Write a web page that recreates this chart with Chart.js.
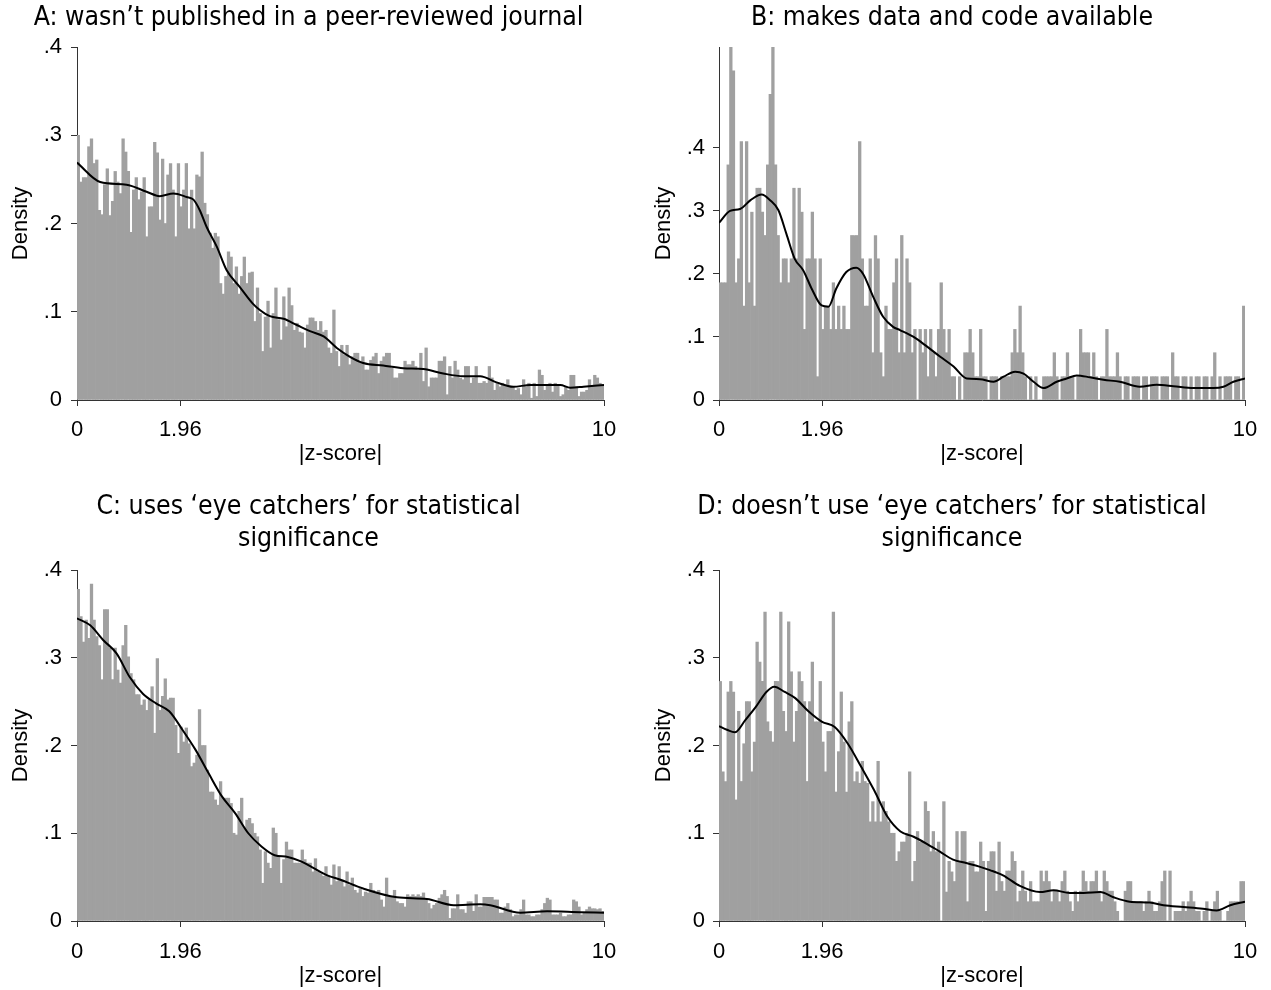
<!DOCTYPE html>
<html>
<head>
<meta charset="utf-8">
<script src="https://cdn.jsdelivr.net/npm/chart.js@4/dist/chart.umd.min.js"></script>
<style>
html,body{margin:0;padding:0;background:#fff;}
#wrap{position:relative;width:1271px;height:990px;overflow:hidden;background:#fff;}
canvas{position:absolute;}
</style>
</head>
<body>
<div id="wrap">
<canvas id="cA" width="640" height="470" style="left:0;top:0"></canvas>
<canvas id="cB" width="631" height="470" style="left:640px;top:0"></canvas>
<canvas id="cC" width="640" height="500" style="left:0;top:490px"></canvas>
<canvas id="cD" width="631" height="500" style="left:640px;top:490px"></canvas>
</div>
<script>
// ---- data ----
const binStart = 0, binWidth = 0.05;   // 200 bins over |z| in [0,10]
const xTickVals = [0, 1.96, 10];
const xTickLabels = ['0', '1.96', '10'];
const yTickVals = [0, 0.1, 0.2, 0.3, 0.4];
const yTickLabels = ['0', '.1', '.2', '.3', '.4'];

const titleA = ['A: wasn\u2019t published in a peer-reviewed journal'];
const titleB = ['B: makes data and code available'];
const titleC = ['C: uses \u2018eye catchers\u2019 for statistical', 'significance'];
const titleD = ['D: doesn\u2019t use \u2018eye catchers\u2019 for statistical', 'significance'];

const histA = [
0.300,0.247,0.252,0.252,0.287,0.296,0.268,0.272,0.215,0.210,
0.244,0.262,0.209,0.225,0.259,0.247,0.234,0.296,0.281,0.259,
0.190,0.238,0.252,0.227,0.236,0.252,0.185,0.219,0.219,0.292,
0.280,0.204,0.273,0.200,0.255,0.268,0.238,0.185,0.268,0.219,
0.238,0.268,0.194,0.238,0.194,0.255,0.253,0.281,0.223,0.210,
0.189,0.172,0.189,0.185,0.132,0.120,0.140,0.168,0.162,0.132,
0.151,0.120,0.140,0.162,0.132,0.144,
0.145,0.089,0.127,0.098,0.055,0.094,0.112,0.059,0.098,0.127,
0.091,0.068,0.117,0.083,0.127,0.107,0.079,0.087,0.077,0.076,
0.059,0.085,0.093,0.093,0.089,0.079,0.089,0.077,0.079,0.059,
0.053,0.102,0.055,0.038,0.062,0.051,0.062,0.040,0.049,0.053,
0.053,0.044,0.049,0.034,0.034,0.045,0.049,0.053,0.030,
0.044,0.049,0.053,0.053,0.036,0.025,0.025,0.030,0.030,0.044,
0.040,0.040,0.044,0.038,0.034,0.053,0.021,0.059,0.015,0.025,
0.025,0.025,0.044,0.044,0.049,0.006,0.038,0.025,0.044,0.034,
0.025,0.023,0.038,0.038,0.019,0.025,0.038,0.019,0.019,0.021,
0.019,0.038,0.025,0.011,0.019,0.015,0.019,0.017,0.023,0.015,
0.015,0.011,0.013,0.006,0.023,0.015,0.019,0.002,0.019,
0.004,0.034,0.028,0.011,0.017,0.019,0.009,0.019,0.017,0.004,
0.006,0.015,0.011,0.028,0.028,0.015,0.004,0.009,0.009,0.011,
0.023,0.015,0.028,0.025,0.019,0.016
];
const histB = [
0.186,0.186,0.186,0.373,0.600,0.522,0.186,0.224,0.410,0.149,
0.410,0.186,0.298,0.149,0.336,0.336,0.298,0.261,0.373,0.485,
0.600,0.373,0.261,0.186,
0.224,0.224,0.186,0.224,0.336,0.224,0.336,0.298,0.112,0.224,
0.224,0.298,0.224,0.037,0.224,0.112,0.149,0.149,0.112,0.186,
0.112,0.149,0.112,0.149,0.112,0.112,0.261,0.261,0.261,0.410,
0.224,0.149,0.149,0.224,0.075,0.261,0.224,0.075,0.037,0.149,
0.112,0.112,0.186,0.224,0.075,
0.261,0.075,0.224,0.186,0.075,0.112,0,0.112,0.075,0.112,0.037,
0.112,0.075,0.037,0.112,0.186,0.112,0.075,0.112,0.037,0.037,
0,0.037,0,0.075,0.075,0.112,0.075,0.037,0.037,0.112,
0.037,0.037,0,0.037,0.037,0.037,0,0.037,0.037,0.037,
0.037,0.075,0.112,0.075,0.149,0.075,0.037,0,0.037,0,
0.037,0,0,0.037,0.037,0.037,0.037,0.075,0.037,0,
0.037,0.037,0.075,0.037,0.037,0,0.037,0.112,0.075,0.075,
0.075,0.037,0.075,0.037,0,0.037,0.037,0.112,0.037,0.037,
0.037,0.075,0.037,0,0.037,0.037,0,0.037,0.037,0.037,
0,0.037,0.037,0,0.037,0.037,0.037,0,0.037,0.037,
0.037,0,0.075,0.037,0.037,0,0.037,0.037,0,0.037,
0,0.037,0.037,0,0.037,0.037,0,0.037,0.075,0,
0.037,0,0.037,0.037,0.037,0,0.037,0.037,0,0.149
];
const histC = [
0.378,0.347,0.318,0.343,0.322,0.384,0.343,0.324,0.314,0.275,
0.355,0.355,0.311,0.275,0.311,0.286,0.271,0.314,0.337,0.301,
0.282,0.275,0.258,0.258,0.246,0.252,0.240,0.252,0.267,0.214,
0.299,0.240,0.256,0.276,0.252,0.254,0.254,0.223,0.191,0.221,
0.204,0.220,0.202,0.176,0.180,0.189,0.241,0.200,0.200,0.172,
0.147,0.147,0.138,0.132,0.159,0.140,0.140,0.140,0.134,0.100,
0.098,0.125,0.140,0.106,0.115,0.117,0.111,0.100,0.096,0.081,
0.043,0.079,0.066,0.060,0.106,0.100,0.073,0.043,0.070,0.090,
0.081,0.081,0.066,0.066,0.066,0.081,0.070,0.066,0.066,0.056,
0.071,0.056,0.054,0.051,0.062,0.051,0.041,0.064,0.045,0.062,
0.047,0.039,0.056,0.041,0.049,0.035,0.032,0.037,0.028,0.033,
0.032,0.043,0.035,0.033,0.035,0.024,0.016,0.049,0.028,0.028,
0.035,0.022,0.020,0.020,0.016,0.030,0.028,0.030,0.028,0.030,
0.028,0.032,0.024,0.020,0.014,0.018,0.020,0.026,0.030,0.035,
0.028,0.003,0.014,0.014,0.030,0.013,0.013,0.009,0.022,0.022,
0.011,0.030,0.016,0.016,0.027,0.027,0.027,0.027,0.024,0.024,
0.009,0.009,0.016,0.020,0.013,0.005,0.007,0.007,0.013,0.024,
0.007,0.007,0.005,0.005,0.007,0.007,0.013,0.020,0.026,0.024,
0.007,0.007,0.007,0.009,0.005,0.005,0.007,0.007,0.024,0.022,
0.016,0.007,0.009,0.013,0.016,0.014,0.014,0.013,0.014,0.011
];
const histD = [
0.273,0.170,0.159,0.261,0.273,0.261,0.138,0.239,0.159,0.202,
0.250,0.250,0.170,0.204,0.318,0.295,0.273,0.352,0.227,0.216,
0.204,0.273,0.273,0.352,0.239,0.216,0.341,0.284,0.204,0.239,
0.284,0.273,0.250,0.159,0.250,0.295,0.227,0.227,0.273,0.204,
0.170,0.216,0.216,0.352,0.147,0.193,0.261,0.204,0.147,0.227,
0.250,0.159,0.170,0.157,0.182,0.159,0.157,0.113,0.136,0.113,
0.182,0.113,0.136,0.125,0.113,0.100,0.100,0.068,0.079,0.090,
0.090,0.100,0.170,0.045,0.068,0.102,0.090,0.090,0.136,0.125,
0.079,0.102,0.079,0.090,0.000,0.136,0.033,0.068,0.056,0.045,
0.102,0.068,0.102,0.102,0.022,0.068,0.068,0.056,0.056,0.090,
0.068,0.011,0.068,0.079,0.079,0.034,0.090,0.045,0.034,0.057,
0.057,0.079,0.068,0.022,0.034,0.057,0.034,0.022,0.045,0.022,
0.022,0.022,0.057,0.045,0.057,0.045,0.022,0.034,0.034,0.022,
0.045,0.057,0.034,0.022,0.011,0.034,0.022,0.034,0.057,0.045,
0.034,0.045,0.045,0.057,0.034,0.022,0.057,0.045,0.034,0.034,
0.022,0.011,0.000,0.000,0.034,0.045,0.045,0.022,0.022,0.022,
0.022,0.011,0.022,0.034,0.022,0.011,0.011,0.022,0.045,0.057,
0.000,0.057,0.000,0.011,0.011,0.011,0.022,0.011,0.022,0.034,
0.022,0.011,0.011,0.000,0.011,0.022,0.000,0.011,0.022,0.034,
0.011,0.000,0.000,0.011,0.022,0.022,0.022,0.022,0.045,0.045
];

// kernel density curves (x, density)
const kdeAx = [0,0.44,0.94,1.32,1.57,1.83,2.08,2.21,2.33,2.46,2.65,2.84,3.09,3.34,3.47,3.66,3.92,4.17,4.42,4.68,4.93,5.18,5.43,5.81,6.19,6.57,6.95,7.33,7.65,7.96,8.28,8.6,8.85,9.17,9.36,9.61,10];
const kdeAy = [0.269,0.247,0.244,0.236,0.231,0.234,0.230,0.227,0.215,0.196,0.174,0.147,0.128,0.109,0.102,0.095,0.092,0.085,0.078,0.072,0.059,0.049,0.042,0.039,0.036,0.035,0.030,0.027,0.027,0.020,0.015,0.017,0.017,0.017,0.014,0.015,0.017];
const kdeBx = [0,0.21,0.4,0.6,0.81,0.97,1.13,1.28,1.44,1.6,1.76,1.95,2.08,2.23,2.42,2.61,2.74,2.93,3.12,3.31,3.44,3.7,3.95,4.2,4.46,4.71,4.96,5.22,5.41,5.63,5.79,5.98,6.17,6.42,6.61,6.8,7.05,7.31,7.62,8.0,8.32,8.64,9.02,9.4,9.59,9.78,10];
const kdeBy = [0.281,0.300,0.303,0.317,0.326,0.317,0.301,0.264,0.224,0.206,0.177,0.150,0.148,0.177,0.203,0.210,0.200,0.164,0.132,0.116,0.111,0.100,0.085,0.069,0.053,0.034,0.033,0.029,0.037,0.045,0.042,0.029,0.019,0.029,0.034,0.039,0.036,0.032,0.029,0.021,0.024,0.022,0.019,0.019,0.021,0.029,0.034];
const kdeCx = [0,0.25,0.5,0.75,1,1.25,1.5,1.75,2,2.25,2.5,2.75,3,3.25,3.5,3.75,4,4.25,4.5,4.75,5,5.43,6.07,6.64,7.15,7.65,7.84,8.41,8.92,9.55,10];
const kdeCy = [0.345,0.337,0.320,0.305,0.278,0.259,0.248,0.239,0.218,0.195,0.168,0.142,0.123,0.100,0.085,0.075,0.073,0.068,0.060,0.052,0.047,0.037,0.027,0.025,0.018,0.019,0.018,0.0095,0.011,0.010,0.0095];
const kdeDx = [0,0.15,0.3,0.5,0.7,0.9,1.05,1.25,1.45,1.7,1.96,2.2,2.45,2.7,2.95,3.2,3.45,3.7,3.95,4.2,4.45,4.7,4.95,5.15,5.4,5.72,6.1,6.36,6.67,6.93,7.25,7.5,7.81,8.19,8.45,8.83,9.2,9.46,9.72,10];
const kdeDy = [0.222,0.218,0.215,0.229,0.244,0.261,0.267,0.261,0.254,0.239,0.227,0.221,0.202,0.176,0.149,0.119,0.102,0.096,0.088,0.079,0.070,0.066,0.062,0.058,0.052,0.040,0.033,0.035,0.032,0.032,0.033,0.027,0.022,0.021,0.018,0.016,0.014,0.012,0.018,0.022];

// ---- rendering ----
const AX = '#333';
const TICKFONT = {family: "'Liberation Sans', Arial, sans-serif", size: 22};
const TITLEFONT = "26.4px 'DejaVu Sans Condensed', 'DejaVu Sans', sans-serif";

const panelTitle = {
  id: 'panelTitle',
  afterDraw(chart, args, o) {
    const ctx = chart.ctx;
    ctx.save();
    ctx.font = TITLEFONT;
    ctx.fillStyle = '#000';
    ctx.textAlign = 'center';
    ctx.textBaseline = 'middle';
    o.lines.forEach((t, i) => ctx.fillText(t, o.x, o.y + i * o.lh));
    ctx.restore();
  }
};

function makePanel(id, cfg) {
  const bars = cfg.hist.map((v, i) => ({x: binStart + binWidth * (i + 0.5), y: v}));
  const kde = cfg.kx.map((x, i) => ({x: x, y: cfg.ky[i]}));
  new Chart(document.getElementById(id), {
    data: {
      datasets: [
        {type: 'line', data: kde, borderColor: '#000', borderWidth: 2, pointRadius: 0,
         cubicInterpolationMode: 'monotone', fill: false, order: 1},
        {type: 'bar', data: bars, backgroundColor: '#a0a0a0', borderWidth: 0,
         barPercentage: 1, categoryPercentage: 1, order: 2}
      ]
    },
    options: {
      responsive: false, animation: false, devicePixelRatio: 1,
      layout: {padding: {left: 0, right: cfg.padRight, top: cfg.padTop, bottom: 0}},
      plugins: {
        legend: {display: false}, tooltip: {enabled: false},
        panelTitle: {lines: cfg.title, x: cfg.titleX, y: cfg.titleY, lh: 32}
      },
      scales: {
        x: {
          type: 'linear', min: 0, max: 10, offset: false,
          afterBuildTicks: s => { s.ticks = xTickVals.map(v => ({value: v})); },
          afterFit: s => { s.height = cfg.xH; },
          ticks: {autoSkip: false, maxRotation: 0, padding: cfg.xTickPad, color: '#000', font: TICKFONT,
                  callback: v => xTickLabels[xTickVals.indexOf(v)]},
          grid: {offset: false, drawOnChartArea: false, drawTicks: true, tickLength: 6, tickColor: AX, color: AX},
          border: {display: true, color: AX, width: 1},
          title: {display: true, text: '|z-score|', color: '#000', font: TICKFONT,
                  padding: {top: 0, bottom: cfg.xTitlePad}}
        },
        y: {
          type: 'linear', min: 0, max: cfg.yMax,
          afterBuildTicks: s => { s.ticks = yTickVals.map(v => ({value: v})); },
          afterFit: s => { s.width = cfg.yW; },
          ticks: {padding: cfg.yTickPad, color: '#000', font: TICKFONT,
                  callback: v => yTickLabels[yTickVals.indexOf(v)]},
          grid: {drawOnChartArea: false, drawTicks: true, tickLength: 6, tickColor: AX, color: AX},
          border: {display: true, color: AX, width: 1},
          title: {display: true, text: 'Density', color: '#000', font: TICKFONT,
                  padding: {top: cfg.yTitlePad, bottom: 0}}
        }
      }
    },
    plugins: [panelTitle]
  });
}

makePanel('cA', {hist: histA, kx: kdeAx, ky: kdeAy, title: titleA, titleX: 308.5, titleY: 18,
  padRight: 36, padTop: 47, xH: 70, yW: 77, yMax: 0.4, xTickPad: 11, xTitlePad: 3, yTitlePad: 8, yTickPad: 9});
makePanel('cB', {hist: histB, kx: kdeBx, ky: kdeBy, title: titleB, titleX: 312, titleY: 18,
  padRight: 26, padTop: 47, xH: 70, yW: 79, yMax: 0.56, xTickPad: 11, xTitlePad: 3, yTitlePad: 11, yTickPad: 8});
makePanel('cC', {hist: histC, kx: kdeCx, ky: kdeCy, title: titleC, titleX: 308.5, titleY: 17,
  padRight: 36, padTop: 80, xH: 69, yW: 77, yMax: 0.4, xTickPad: 12, xTitlePad: 1, yTitlePad: 8, yTickPad: 9});
makePanel('cD', {hist: histD, kx: kdeDx, ky: kdeDy, title: titleD, titleX: 312, titleY: 17,
  padRight: 26, padTop: 80, xH: 69, yW: 79, yMax: 0.4, xTickPad: 12, xTitlePad: 1, yTitlePad: 11, yTickPad: 8});
</script>
</body>
</html>
